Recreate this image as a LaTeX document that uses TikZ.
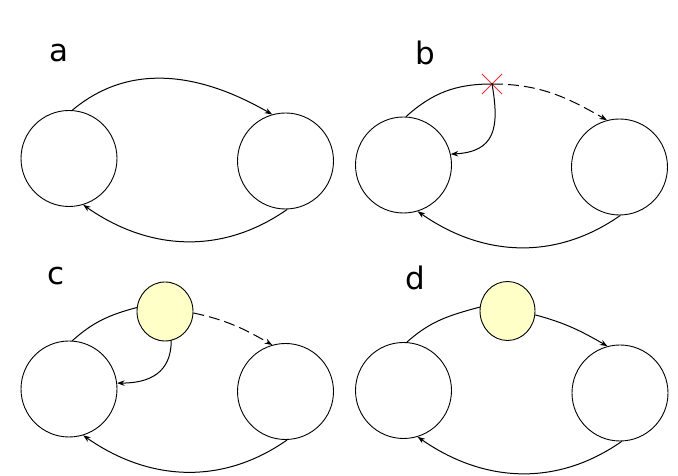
\documentclass[tikz,border=0pt]{standalone}
\usepackage{fontspec}
\setsansfont{DejaVu Sans}
\usepackage{tikz}
\usetikzlibrary{arrows.meta,shapes.geometric,shapes.misc}
\definecolor{stateYellow}{RGB}{255,255,200}
\definecolor{cutRed}{RGB}{238,48,48}
\tikzset{
  state/.style={
    circle, draw=black, fill=white, line width=0.9pt,
    minimum size=96pt, inner sep=0pt
  },
  blob/.style={
    ellipse, draw=black, fill=stateYellow, line width=0.9pt,
    minimum width=#1, minimum height=59pt, inner sep=0pt
  },
  cut/.style={
    cross out, draw=cutRed, line width=1pt,
    minimum size=19pt, inner sep=0pt
  },
  tag/.style={
    anchor=base west, inner sep=0pt,
    font=\sffamily\fontsize{31}{31}\selectfont
  },
  myarr/.style={-{Stealth[length=7.5pt,width=5.5pt]}, line width=1pt, #1},
  myline/.style={line width=1pt},
  mydash/.style={dash pattern=on 11pt off 5pt},
}

\begin{document}
\begin{tikzpicture}[x=1pt,y=1pt]
  \useasboundingbox (0,0) rectangle (678,476);

  % Panel a
  \node[tag] (ta) at (49,414) {a};
  \node[state] (la) at (69,317.5) {};
  \node[state] (ra) at (285.5,315) {};
  \draw[myarr=black] (la.86) to[out=40,in=150] (ra.106);
  \draw[myarr=black] (ra.-88) to[out=215,in=-35] (la.-73);

  % Panel b
  \node[tag] (tb) at (415,411) {b};
  \node[state] (lb) at (403.5,311) {};
  \node[state] (rb) at (619.5,309) {};
  \node[cut] (xb) at (492,392) {};
  \draw[myline] (lb.87) to[out=42,in=180] (xb.center);
  \draw[myarr=black, mydash] (xb.center) to[out=0,in=150] (rb.105);
  \draw[myarr=black] (xb.center) to[out=-80,in=3,looseness=1.4] (lb.13);
  \draw[myarr=black] (rb.-89) to[out=215,in=-35] (lb.-73);

  % Panel c
  \node[tag] (tc) at (47,191) {c};
  \node[state] (lc) at (69,87) {};
  \node[state] (rc) at (285.5,84.5) {};
  \node[blob=56pt] (yc) at (165,164.5) {};
  \draw[myline] (lc.86) to[out=42,in=195] (yc.172);
  \draw[myarr=black, mydash] (yc.-3) to[out=-12,in=150] (rc.106);
  \draw[myarr=black] (yc.-78) to[out=-90,in=0,looseness=1.2] (lc.7);
  \draw[myarr=black] (rc.-88) to[out=215,in=-35] (lc.-73);

  % Panel d
  \node[tag] (td) at (405,186) {d};
  \node[state] (ld) at (403.5,85.5) {};
  \node[state] (rd) at (620,83) {};
  \node[blob=55pt] (yd) at (507.5,165) {};
  \draw[myline] (ld.86) to[out=42,in=195] (yd.172);
  \draw[myarr=black] (yd.-8) to[out=-15,in=150] (rd.105);
  \draw[myarr=black] (rd.-88) to[out=215,in=-35] (ld.-73);
\end{tikzpicture}
\end{document}
